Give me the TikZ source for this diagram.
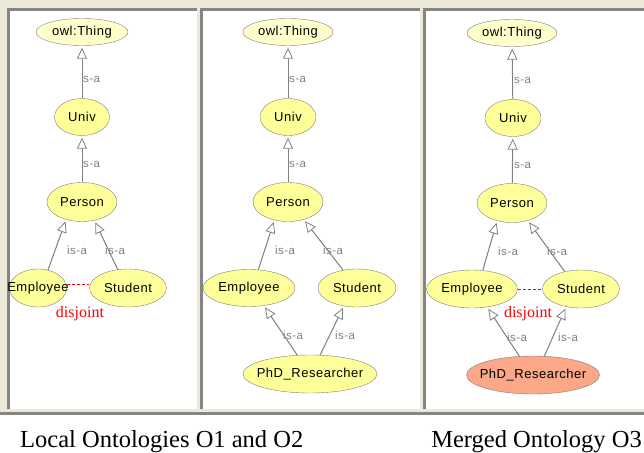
\documentclass[tikz,border=0pt]{standalone}
\usepackage{fontspec}
\setmainfont{Liberation Serif}
\newfontfamily\nodefont[LetterSpace=4]{Liberation Sans}
\usetikzlibrary{shapes.geometric,arrows.meta}

\definecolor{frame}{HTML}{ECE9D8}
\definecolor{rim}{HTML}{858585}
\definecolor{pale}{HTML}{FFFFCC}
\definecolor{cls}{HTML}{FFFF99}
\definecolor{merged}{HTML}{FBA888}
\definecolor{edge}{HTML}{808080}

\begin{document}
\begin{tikzpicture}[x=1pt,y=-1pt,
  cls/.style 2 args={ellipse, draw=edge, fill=cls, inner sep=0pt, minimum width=#1, minimum height=#2},
  every label/.style={font=\nodefont\fontsize{13}{15}\selectfont, inner sep=0pt},
  isa/.style={draw=edge, line width=1pt, shorten >=2pt, -{Triangle[open, length=11pt, width=10pt, line width=0.8pt]}},
  elbl/.style={font=\nodefont\fontsize{11.5}{13}\selectfont, text=gray, inner sep=0pt},
  disj/.style={draw=red, line width=1pt, dash pattern=on 3pt off 2pt},
  dlbl/.style={font=\fontsize{16}{18}\selectfont, text=red, inner sep=0pt},
  caption/.style={font=\fontsize{24.5}{28}\selectfont, inner sep=0pt}]

  \useasboundingbox (0,0) rectangle (644,452);

  % Frame and panels
  \fill[frame] (0,0) rectangle (644,415);
  \draw[rim, line width=3pt] (0,413.5) -- (644,413.5);
  \foreach \l/\r in {7/197, 200/420, 423/644} {
    \fill[white] (\l,8) rectangle (\r,409);
    \draw[rim, line width=3pt] (\l+1.5,409) -- (\l+1.5,9.5) -- (\r,9.5);
  }

  % Local ontology O1
  \node[cls={92pt}{27pt}, fill=pale, label=center:{owl:Thing}] (thing1) at (82,32) {};
  \node[cls={55pt}{37pt}, label=center:Univ] (univ1) at (82,117) {};
  \node[cls={70pt}{39pt}, label=center:Person] (pers1) at (82,202) {};
  \node[cls={57pt}{38pt}, label=center:Employee] (emp1) at (38,288) {};
  \node[cls={77pt}{38pt}, label=center:Student] (stud1) at (128,288) {};

  \draw[isa] (univ1) -- (thing1);
  \draw[isa] (pers1) -- (univ1);
  \draw[isa] (emp1.61) -- (pers1.228);
  \draw[isa] (stud1.119) -- (pers1.304);
  \node[elbl, anchor=west] (l1a) at (83,79) {s-a};
  \node[elbl, anchor=west] (l1b) at (83,164) {s-a};
  \node[elbl] (l1c) at (77,250) {is-a};
  \node[elbl] (l1d) at (115,250) {is-a};

  \draw[disj] ([yshift=4pt]emp1.east) -- ([yshift=4pt]stud1.west);
  \node[dlbl] (dj1) at (80,314) {disjoint};

  % Local ontology O2
  \node[cls={90pt}{27pt}, fill=pale, label=center:{owl:Thing}] (thing2) at (288,32) {};
  \node[cls={56pt}{37pt}, label=center:Univ] (univ2) at (288,117) {};
  \node[cls={70pt}{39pt}, label=center:Person] (pers2) at (288,202) {};
  \node[cls={92pt}{37pt}, label=center:Employee] (emp2) at (249,288) {};
  \node[cls={78pt}{38pt}, label=center:Student] (stud2) at (357,288) {};
  \node[cls={134pt}{38pt}, label=center:PhD\_Researcher] (phd2) at (310,374) {};

  \draw[isa] (univ2) -- (thing2);
  \draw[isa] (pers2) -- (univ2);
  \draw[isa] (emp2.63) -- (pers2.233);
  \draw[isa] (stud2.128) -- (pers2.312);
  \draw[isa] (phd2.124) -- (emp2.310);
  \draw[isa] (phd2.62) -- (stud2.234);
  \node[elbl, anchor=west] (l2a) at (289,79) {s-a};
  \node[elbl, anchor=west] (l2b) at (289,164) {s-a};
  \node[elbl] (l2c) at (285,250) {is-a};
  \node[elbl] (l2d) at (333,250) {is-a};
  \node[elbl] (l2e) at (293,335) {is-a};
  \node[elbl] (l2f) at (345,335) {is-a};

  % Merged ontology O3
  \node[cls={90pt}{27pt}, fill=pale, label=center:{owl:Thing}] (thing3) at (512,33) {};
  \node[cls={56pt}{37pt}, label=center:Univ] (univ3) at (513,118) {};
  \node[cls={70pt}{39pt}, label=center:Person] (pers3) at (512,203) {};
  \node[cls={91pt}{38pt}, label=center:Employee] (emp3) at (472,289) {};
  \node[cls={77pt}{38pt}, label=center:Student] (stud3) at (581,289) {};
  \node[cls={133pt}{38pt}, fill=merged, label=center:PhD\_Researcher] (phd3) at (533,375) {};

  \draw[isa] (univ3) -- (thing3);
  \draw[isa] (pers3) -- (univ3);
  \draw[isa] (emp3.60) -- (pers3.230);
  \draw[isa] (stud3.133) -- (pers3.312);
  \draw[isa] (phd3.126) -- (emp3.310);
  \draw[isa] (phd3.59) -- (stud3.230);
  \node[elbl, anchor=west] (l3a) at (514,80) {s-a};
  \node[elbl, anchor=west] (l3b) at (514,165) {s-a};
  \node[elbl] (l3c) at (508,251) {is-a};
  \node[elbl] (l3d) at (557,251) {is-a};
  \node[elbl] (l3e) at (517,337) {is-a};
  \node[elbl] (l3f) at (568,337) {is-a};

  \draw[disj] (emp3.east) -- (stud3.west);
  \node[dlbl] (dj3) at (528,314) {disjoint};

  % Captions
  \node[caption, anchor=base west] (capl) at (20,447) {Local Ontologies O1 and O2};
  \node[caption, anchor=base east] (capm) at (642,447) {Merged Ontology O3};

\end{tikzpicture}
\end{document}
